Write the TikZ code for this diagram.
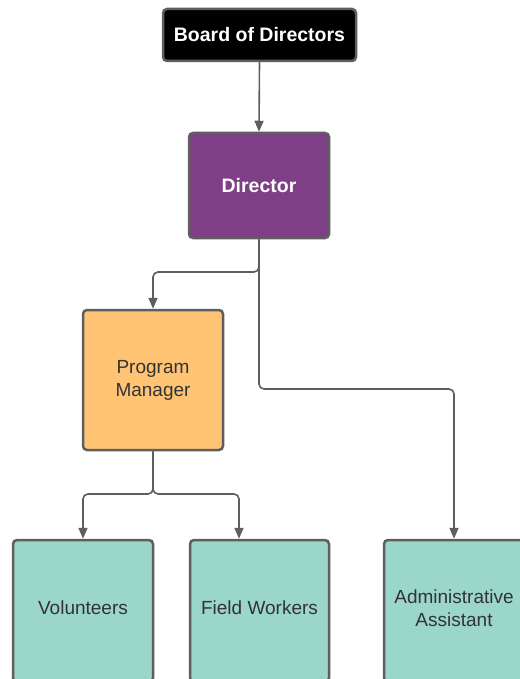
\documentclass[tikz,border=0pt]{standalone}
\usepackage{fontspec}
\setmainfont{Liberation Sans}
\usetikzlibrary{arrows.meta}
\definecolor{edgegray}{HTML}{5E5E5E}
\definecolor{boardfill}{HTML}{000000}
\definecolor{dirfill}{HTML}{7E3F86}
\definecolor{pmfill}{HTML}{FFC374}
\definecolor{staff}{HTML}{9AD6CA}
\definecolor{textgray}{HTML}{333333}
\newcommand{\lift}[1]{\raisebox{6pt}{#1}}
\tikzset{
  orgbox/.style={draw=edgegray, line width=2.5pt, rounded corners=4pt,
    inner sep=0pt, align=center, font=\fontsize{19}{23}\selectfont},
  darkbox/.style={orgbox, text=white, font=\fontsize{19.5}{23}\selectfont\bfseries},
  lightbox/.style={orgbox, text=textgray},
  conn/.style={draw=edgegray, line width=1.6pt, rounded corners=5pt,
    -{Triangle[length=11pt,width=9pt]}}
}
\begin{document}
\begin{tikzpicture}[x=1pt,y=-1pt]
  \useasboundingbox (0,0) rectangle (519,679);
  % boxes
  \node[darkbox, fill=boardfill, minimum width=193, minimum height=52] (board) at (259.5,35) {\raisebox{1pt}{Board of Directors}};
  \node[darkbox, fill=dirfill, minimum width=140, minimum height=105] (dir) at (259,185.5) {Director};
  \node[lightbox, fill=pmfill, minimum width=140, minimum height=140] (pm) at (153,380) {Program\\Manager};
  \node[lightbox, fill=staff, minimum width=140, minimum height=142] (vol) at (83,611) {\lift{Volunteers}};
  \node[lightbox, fill=staff, minimum width=139, minimum height=142] (fw) at (259.5,611) {\lift{Field Workers}};
  \node[lightbox, fill=staff, minimum width=140, minimum height=142] (adm) at (454,611) {\lift{Administrative}\\\lift{Assistant}};
  % junction levels and the drop point above Field Workers
  \coordinate (j1) at (0,272);
  \coordinate (j2) at (0,389);
  \coordinate (j3) at (0,494);
  \coordinate (fwin) at (239,540);
  % connectors
  \draw[conn] (board.south) -- (dir.north);
  \draw[conn] (dir.south) -- (dir.south |- j1) -| (pm.north);
  \draw[conn] (dir.south) -- (dir.south |- j2) -| (adm.north);
  \draw[conn] (pm.south) -- (pm.south |- j3) -| (vol.north);
  \draw[conn] (pm.south) -- (pm.south |- j3) -| (fwin |- fw.north);
\end{tikzpicture}
\end{document}
